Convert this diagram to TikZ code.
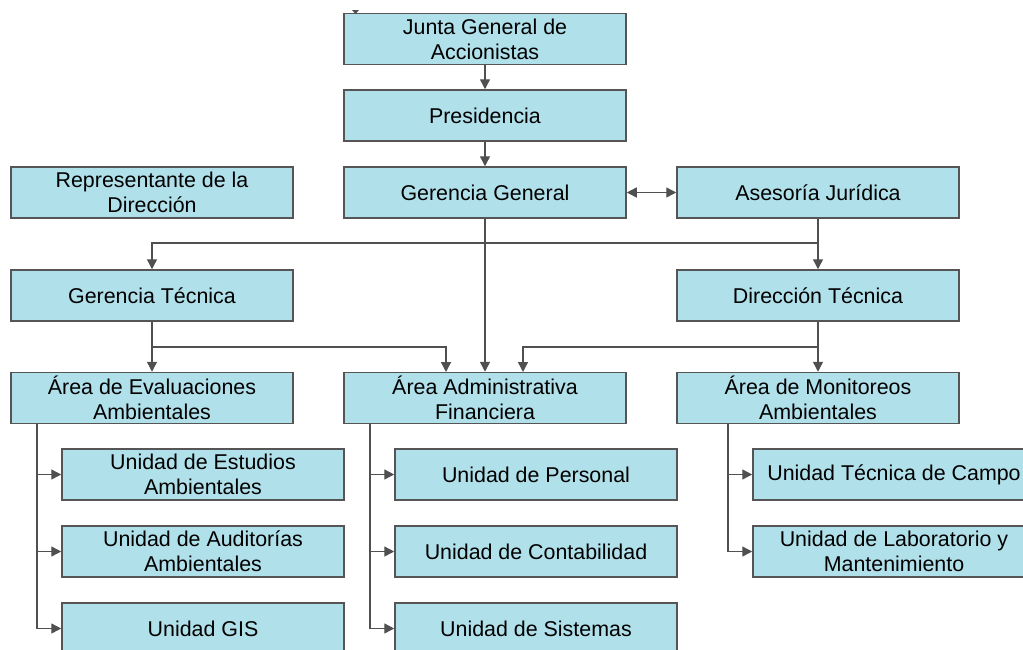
\documentclass[tikz,border=0pt]{standalone}
\usepackage{fontspec}
\setmainfont{Liberation Sans}
\usetikzlibrary{arrows.meta,calc}
\definecolor{boxfill}{HTML}{B0E0EA}
\definecolor{boxline}{HTML}{555555}
\definecolor{linecol}{HTML}{505050}
\tikzset{
  orgbox/.style={draw=boxline, fill=boxfill, line width=1.5pt, minimum width=282pt, minimum height=51pt,
    inner sep=0pt, align=center, font=\fontsize{21.4}{25}\selectfont, text=black},
  conn/.style={draw=linecol, line width=1.4pt, -{Triangle[length=10pt,width=10pt]}},
  conn2/.style={draw=linecol, line width=1.4pt, {Triangle[length=10pt,width=10pt]}-{Triangle[length=10pt,width=10pt]}}
}
\begin{document}
\begin{tikzpicture}[x=1pt,y=-1pt]
\useasboundingbox (0,0) rectangle (1023,649);
\clip (0,0) rectangle (1023,649);
\node[orgbox] (J) at (485,39) {Junta General de\\Accionistas};
\node[orgbox] (P) at (485,115.5) {Presidencia};
\node[orgbox] (GG) at (485,192.5) {Gerencia General};
\node[orgbox] (AJ) at (818,192.5) {Asesoría Jurídica};
\node[orgbox] (R) at (152,192.5) {Representante de la\\Dirección};
\node[orgbox] (GT) at (152,295.5) {Gerencia Técnica};
\node[orgbox] (DT) at (818,295.5) {Dirección Técnica};
\node[orgbox] (AE) at (152,398) {Área de Evaluaciones\\Ambientales};
\node[orgbox] (AA) at (485,398) {Área Administrativa\\Financiera};
\node[orgbox] (AM) at (818,398) {Área de Monitoreos\\Ambientales};
\node[orgbox] (UE) at (203,474.5) {Unidad de Estudios\\Ambientales};
\node[orgbox] (UA) at (203,551.5) {Unidad de Auditorías\\Ambientales};
\node[orgbox] (UG) at (203,628.5) {Unidad GIS};
\node[orgbox] (UP) at (536,474.5) {Unidad de Personal};
\node[orgbox] (UC) at (536,551.5) {Unidad de Contabilidad};
\node[orgbox] (US) at (536,628.5) {Unidad de Sistemas};
\node[orgbox] (UT) at (894,474.5) {Unidad Técnica de Campo};
\node[orgbox] (UL) at (894,551.5) {Unidad de Laboratorio y\\Mantenimiento};
% coordinates
\coordinate (b1) at (818,243);
\coordinate (b2) at (152,347);
\coordinate (b3) at (818,347);
\coordinate (aaL) at (446,372);
\coordinate (aaR) at (523,372);
\coordinate (ae0) at (37,424);
\coordinate (aa0) at (370,424);
\coordinate (am0) at (728,424);
% connectors
\draw[conn] (J) -- (P);
\draw[conn] (P) -- (GG);
\draw[conn2] (GG) -- (AJ);
\draw[conn] (AJ) -- (DT);
\draw[conn] (b1) -| (GT.north);
\draw[conn] (GG) -- (AA);
\draw[conn] (GT) -- (AE);
\draw[conn] (b2) -| (aaL);
\draw[conn] (DT) -- (AM);
\draw[conn] (b3) -| (aaR);
\draw[conn] (ae0) |- (UE.west);
\draw[conn] (ae0) |- (UA.west);
\draw[conn] (ae0) |- (UG.west);
\draw[conn] (aa0) |- (UP.west);
\draw[conn] (aa0) |- (UC.west);
\draw[conn] (aa0) |- (US.west);
\draw[conn] (am0) |- (UT.west);
\draw[conn] (am0) |- (UL.west);
\fill[linecol] (352,10) -- (359,10) -- (355.5,14) -- cycle;
\end{tikzpicture}
\end{document}
